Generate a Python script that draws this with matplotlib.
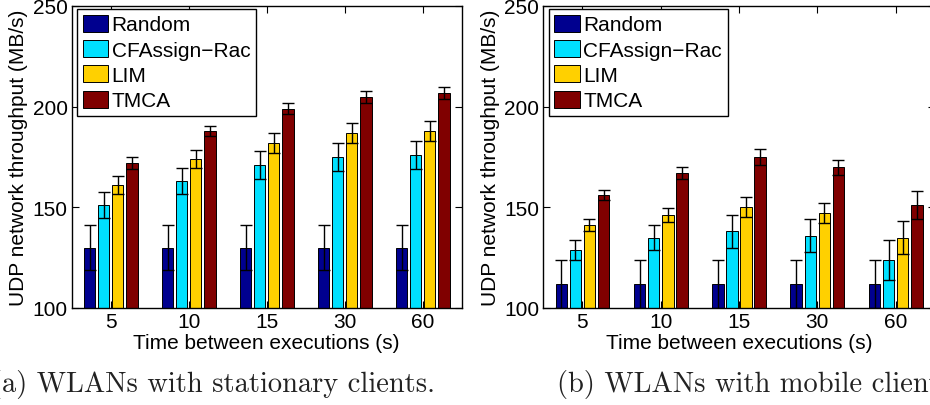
import matplotlib
matplotlib.use("Agg")
import matplotlib.pyplot as plt
import numpy as np

plt.rcParams['font.family'] = ['Liberation Sans', 'DejaVu Sans']

# Categories and series
intervals = ["5", "10", "15", "30", "60"]
methods = ["Random", "CFAssign\u2212Rac", "LIM", "TMCA"]
colors = ["#00008F", "#00E0FF", "#FFD000", "#800000"]

# (a) stationary clients: means and error half-widths
stat_random = [130, 130, 130, 130, 130]
stat_cfassign = [151, 163, 171, 175, 176]
stat_lim = [161, 174, 182, 187, 188]
stat_tmca = [172, 188, 199, 205, 207]
stat_random_err = [11, 11, 11, 11, 11]
stat_cfassign_err = [6.5, 6.5, 7, 7, 7]
stat_lim_err = [4.5, 4.5, 5, 5, 5]
stat_tmca_err = [3, 2.6, 2.8, 3, 3]

# (b) mobile clients: means and error half-widths
mob_random = [112, 112, 112, 112, 112]
mob_cfassign = [129, 135, 138, 136, 124]
mob_lim = [141, 146, 150, 147, 135]
mob_tmca = [156, 167, 175, 170, 151]
mob_random_err = [12, 12, 12, 12, 12]
mob_cfassign_err = [5, 6, 8, 8, 10]
mob_lim_err = [3, 3.5, 5, 5, 8]
mob_tmca_err = [2.5, 3, 4, 3.7, 7]

fig = plt.figure(figsize=(9.3, 4.06), dpi=100)
W, H = 930.0, 406.0
FS = 15

def panel(rect, series, errs, caption, cap_x):
    ax = fig.add_axes(rect)
    x = np.arange(1, len(intervals) + 1)
    offsets = [-0.27, -0.09, 0.09, 0.27]
    width = 0.148
    for vals, err, off, col, name in zip(series, errs, offsets, colors, methods):
        ax.bar(x + off, vals, width, color=col, edgecolor="black",
               linewidth=0.7, label=name, zorder=2)
        ax.errorbar(x + off, vals, yerr=err, fmt="none", ecolor="black",
                    elinewidth=1.0, capsize=4, capthick=1.0, zorder=3)
    ax.set_xlim(0.5, 5.5)
    ax.set_ylim(100, 250)
    ax.set_yticks([100, 150, 200, 250])
    ax.set_xticks(x)
    ax.set_xticklabels(intervals)
    ax.tick_params(direction="in", length=5, width=0.8, top=True, right=True,
                   labelsize=FS, pad=3)
    for s in ax.spines.values():
        s.set_linewidth(1.0)
    ax.set_xlabel("Time between executions (s)", fontsize=FS, labelpad=1)
    ax.set_ylabel("UDP network throughput (MB/s)", fontsize=FS, labelpad=3)
    leg = ax.legend(loc="upper left", bbox_to_anchor=(0.0136, 0.99),
                    borderaxespad=0, fontsize=FS, fancybox=False,
                    edgecolor="black", framealpha=1, handlelength=1.23,
                    handleheight=0.87, handletextpad=0.15, labelspacing=0.27,
                    borderpad=0.28)
    leg.get_frame().set_linewidth(1.0)
    fig.text(cap_x / W, 1 - 392 / H, caption, fontsize=20.5, family="cmr10",
             ha="left", va="baseline", color="#222222")
    return ax

panel([71.7 / W, 1 - 309 / H, 390 / W, 302 / H],
      [stat_random, stat_cfassign, stat_lim, stat_tmca],
      [stat_random_err, stat_cfassign_err, stat_lim_err, stat_tmca_err],
      "(a) WLANs with stationary clients.", -9)
panel([543.3 / W, 1 - 309 / H, 391.5 / W, 302 / H],
      [mob_random, mob_cfassign, mob_lim, mob_tmca],
      [mob_random_err, mob_cfassign_err, mob_lim_err, mob_tmca_err],
      "(b) WLANs with mobile clients.", 556.7)

fig.savefig("out.png", dpi=100)
